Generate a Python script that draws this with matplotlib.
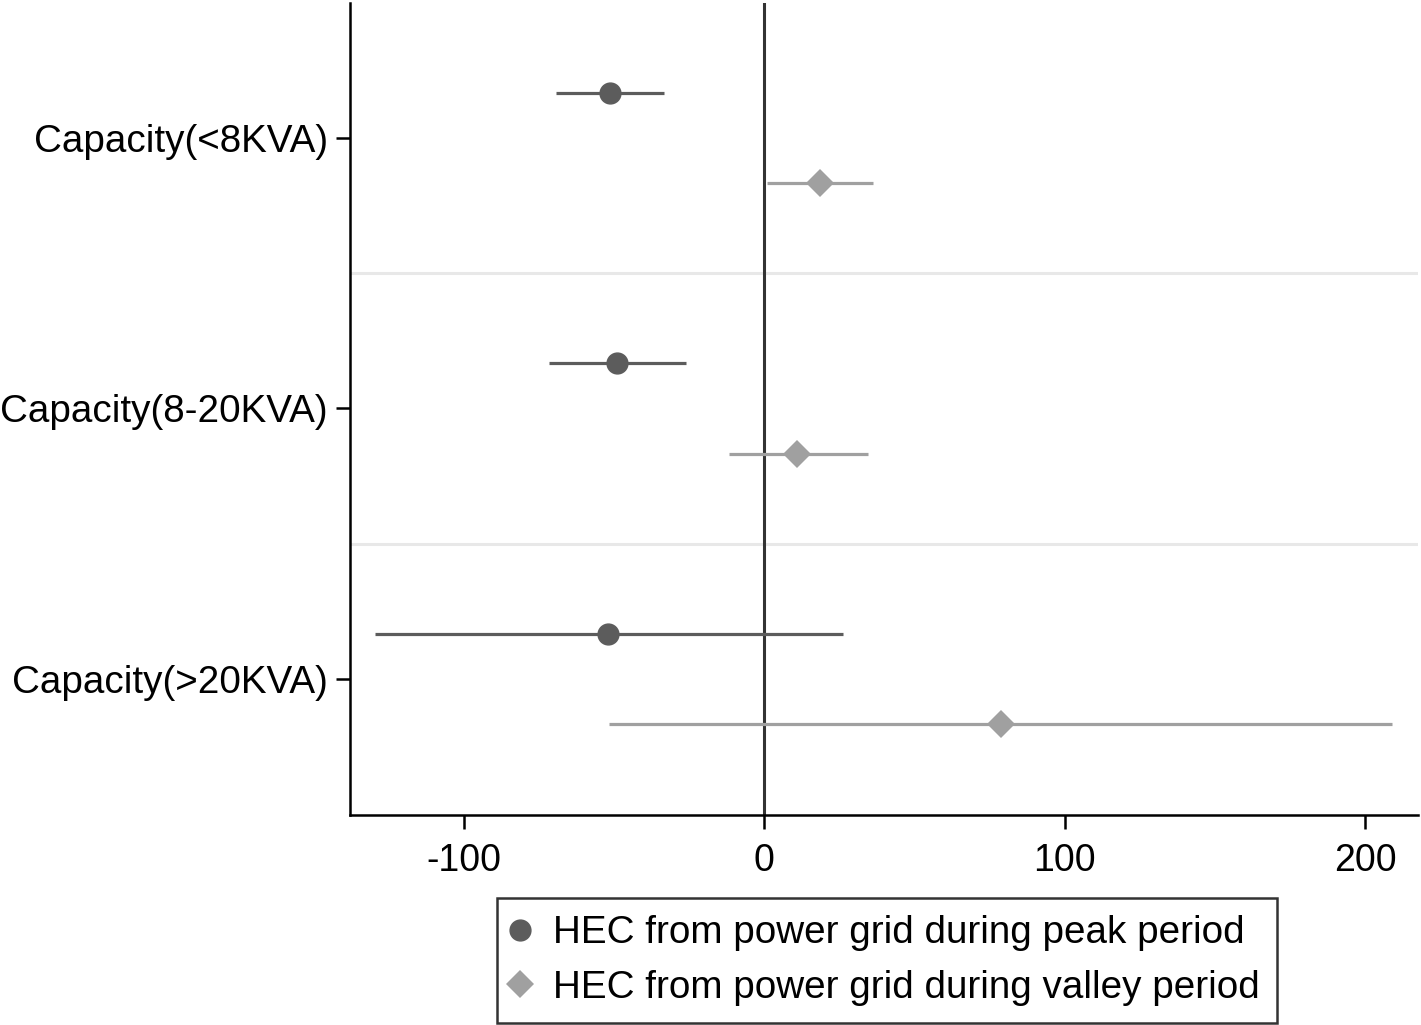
import matplotlib
matplotlib.use("Agg")
import matplotlib.pyplot as plt
from matplotlib.lines import Line2D

plt.rcParams['font.family'] = ['Liberation Sans', 'DejaVu Sans']
plt.rcParams['axes.unicode_minus'] = False

groups = ["Capacity(<8KVA)", "Capacity(8-20KVA)", "Capacity(>20KVA)"]

peak_est = [-51.2, -48.9, -51.9]
peak_lo = [-69.2, -71.5, -129.4]
peak_hi = [-33.3, -26.0, 26.3]

valley_est = [18.6, 11.0, 78.9]
valley_lo = [1.0, -11.6, -51.6]
valley_hi = [36.3, 34.6, 209.0]

xticks = [-100, 0, 100, 200]

peak_col = "#5c5c5c"
valley_col = "#a0a0a0"

fig = plt.figure(figsize=(14.21, 10.25), dpi=100)
ax = fig.add_axes([0.2463, 0.2049, 0.9979 - 0.2463, 0.997 - 0.2049])

pos = [i + 1 for i in range(len(groups))]
off = 1 / 6

# separators between groups
for k in range(1, len(groups)):
    ax.axhline(k + 0.5, color="#e8e8e8", lw=2.2, zorder=0)

ax.axvline(0, color="#333333", lw=2.2, zorder=1)

yp = [p - off for p in pos]
yv = [p + off for p in pos]
ax.hlines(yp, peak_lo, peak_hi, color=peak_col, lw=2.3, zorder=2)
ax.plot(peak_est, yp, "o", color=peak_col, ms=15, zorder=3)
ax.hlines(yv, valley_lo, valley_hi, color=valley_col, lw=2.3, zorder=2)
ax.plot(valley_est, yv, "D", color=valley_col, ms=14, mew=0, zorder=3)

ax.set_xlim(-137.8, 217.6)
ax.set_ylim(3.504, 0.5)
ax.set_xticks(xticks)
ax.set_yticks(pos)
ax.set_yticklabels(groups, fontsize=27.8)

for s in ["top", "right"]:
    ax.spines[s].set_visible(False)
for s in ["left", "bottom"]:
    ax.spines[s].set_linewidth(1.8)
ax.tick_params(axis="x", labelsize=27, length=10, width=1.8, pad=10)
ax.tick_params(axis="y", length=10, width=1.8, pad=6)

handles = [
    Line2D([], [], ls="none", marker="o", color=peak_col, ms=15),
    Line2D([], [], ls="none", marker="D", color=valley_col, ms=14, mew=0),
]
labels = ["HEC from power grid during peak period",
          "HEC from power grid during valley period"]
leg = fig.legend(handles, labels, loc="center left", bbox_to_anchor=(497 / 1421, 0.0629),
                 bbox_transform=fig.transFigure, fontsize=27.8, frameon=True,
                 fancybox=False, edgecolor="black", handletextpad=0.7,
                 handlelength=0.3, borderpad=0.45, labelspacing=0.47,
                 borderaxespad=0)
leg.get_frame().set_linewidth(1.8)

fig.savefig("out.png", dpi=100)
